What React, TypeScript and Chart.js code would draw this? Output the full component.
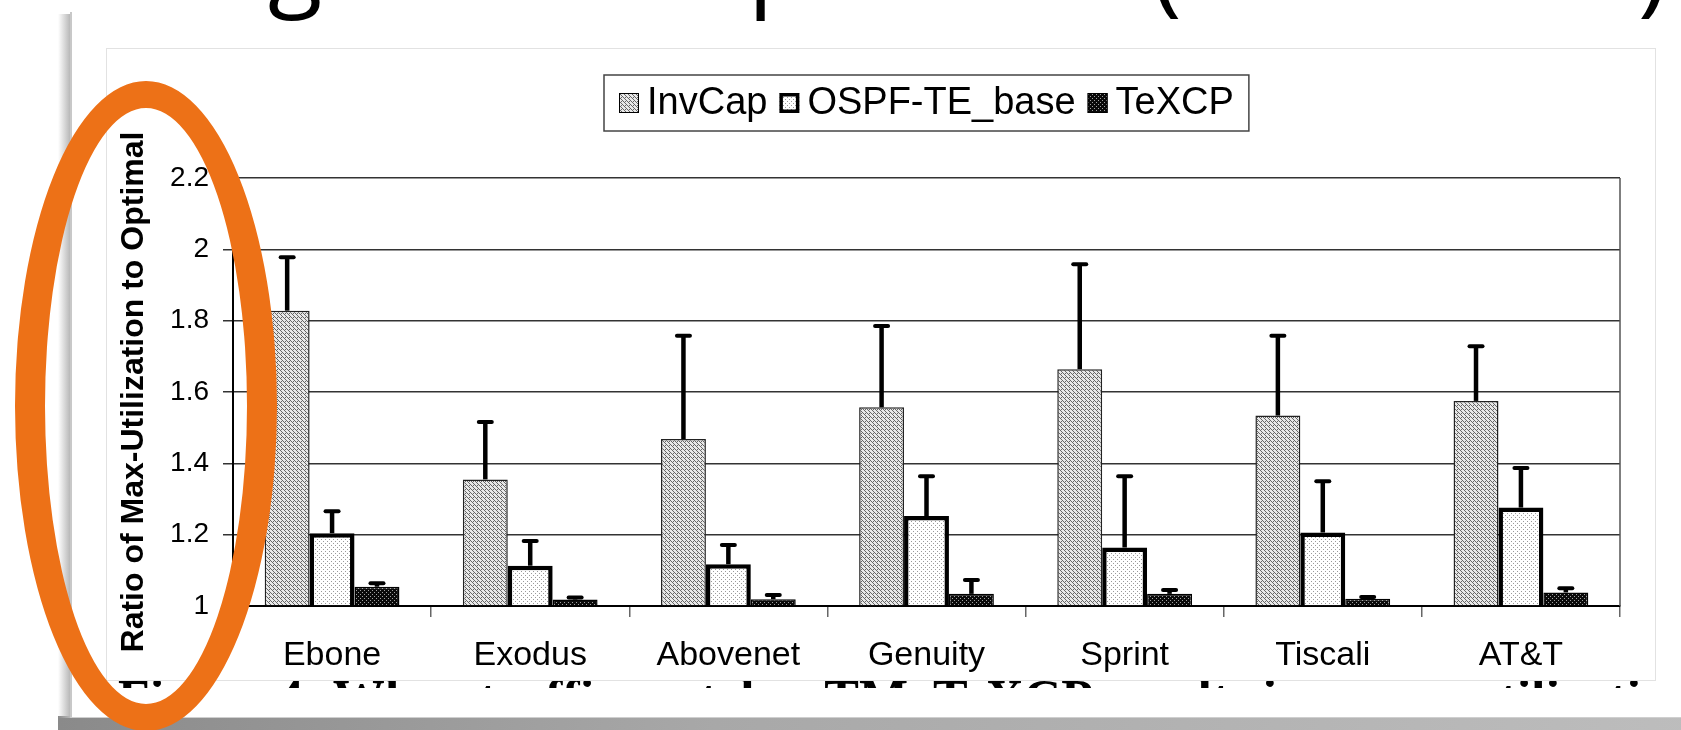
import React, { useEffect, useRef } from "react";
import { Chart, registerables } from "chart.js";

Chart.register(...registerables);

// ---------- data ----------
const categories = ["Ebone", "Exodus", "Abovenet", "Genuity", "Sprint", "Tiscali", "AT&T"];
const seriesNames = ["InvCap", "OSPF-TE_base", "TeXCP"];
const invCap = [1.828, 1.355, 1.468, 1.557, 1.664, 1.534, 1.575];
const invCapErr = [1.978, 1.516, 1.758, 1.785, 1.958, 1.758, 1.728];
const ospfTeBase = [1.204, 1.113, 1.117, 1.252, 1.164, 1.206, 1.276];
const ospfTeBaseErr = [1.266, 1.182, 1.171, 1.364, 1.364, 1.35, 1.387];
const texcp = [1.054, 1.018, 1.019, 1.034, 1.034, 1.02, 1.038];
const texcpErr = [1.064, 1.024, 1.031, 1.073, 1.045, 1.025, 1.05];
const yTickValues = [1, 1.2, 1.4, 1.6, 1.8, 2, 2.2];
const yTitle = "Ratio of Max-Utilization to Optimal";
const captionText =
  "Figure 4: When traffic matches TM, TeXCP results in a max-utilization within a few percent of the optimal";
// slide-title letters whose lower parts peek in at the top edge
const titleGlyphs = ["g", "p", "(", ")"];
const titleGlyphX = [268, 748, 1152, 1638];
const titleGlyphBaseline = [-3, -3, 3, 3];

const FONT = "'Liberation Sans', Arial, Helvetica, sans-serif";

function makePattern(size: number, bg: string, dots: Array<[number, number]>, dotColor: string) {
  const c = document.createElement("canvas");
  c.width = size;
  c.height = size;
  const g = c.getContext("2d")!;
  g.fillStyle = bg;
  g.fillRect(0, 0, size, size);
  g.fillStyle = dotColor;
  dots.forEach(([x, y]) => g.fillRect(x, y, 1, 1));
  return g.createPattern(c, "repeat")!;
}

export default function App() {
  const canvasRef = useRef<HTMLCanvasElement | null>(null);
  const titleRef = useRef<HTMLCanvasElement | null>(null);

  useEffect(() => {
    const tc = titleRef.current;
    if (!tc) return;
    const tctx = tc.getContext("2d")!;
    tctx.clearRect(0, 0, tc.width, tc.height);
    tctx.font = "100px 'Open Sans', sans-serif";
    tctx.fillStyle = "#000";
    tctx.textAlign = "left";
    tctx.textBaseline = "alphabetic";
    titleGlyphs.forEach((ch, i) => {
      tctx.fillText(ch, titleGlyphX[i], titleGlyphBaseline[i]);
    });
  }, []);

  useEffect(() => {
    const canvas = canvasRef.current;
    if (!canvas) return;

    const patInv = makePattern(4, "#e8e8e8", [[0, 0], [1, 1], [2, 2], [3, 3], [2, 0]], "#666");
    const patOspf = makePattern(4, "#ffffff", [[0, 0], [2, 2]], "#9a9a9a");
    const patTex = makePattern(4, "#0a0a0a", [[1, 1], [3, 3]], "#a0a0a0");
    const patterns = [patInv, patOspf, patTex];
    const errSeries = [invCapErr, ospfTeBaseErr, texcpErr];

    const errorBars = {
      id: "errorBars",
      afterDatasetsDraw(chart: any) {
        const ctx = chart.ctx;
        const ys = chart.scales.y;
        errSeries.forEach((errs, di) => {
          const meta = chart.getDatasetMeta(di);
          meta.data.forEach((bar: any, i: number) => {
            const top = ys.getPixelForValue(errs[i]);
            ctx.save();
            ctx.strokeStyle = "#000";
            ctx.lineWidth = 4.5;
            ctx.lineCap = "butt";
            ctx.beginPath();
            ctx.moveTo(bar.x, bar.y);
            ctx.lineTo(bar.x, top);
            ctx.stroke();
            ctx.lineWidth = 4;
            ctx.lineCap = "round";
            ctx.beginPath();
            ctx.moveTo(bar.x - 6.5, top);
            ctx.lineTo(bar.x + 6.5, top);
            ctx.stroke();
            ctx.restore();
          });
        });
      },
    };

    const frame = {
      id: "frame",
      afterDraw(chart: any) {
        const { ctx, chartArea } = chart;
        ctx.save();
        ctx.strokeStyle = "#555";
        ctx.lineWidth = 1.5;
        ctx.beginPath();
        ctx.moveTo(chartArea.right, chartArea.top);
        ctx.lineTo(chartArea.right, chartArea.bottom);
        ctx.stroke();
        ctx.restore();
      },
    };

    const boxLegend = {
      id: "boxLegend",
      afterDraw(chart: any) {
        const { ctx, chartArea } = chart;
        ctx.save();
        ctx.font = `38px ${FONT}`;
        const sw = 20;
        const gapSw = 8;
        const gapItems = 12;
        const padX = 15;
        const widths = seriesNames.map((n) => ctx.measureText(n).width);
        const content =
          widths.reduce((a, b) => a + b, 0) +
          seriesNames.length * (sw + gapSw) +
          (seriesNames.length - 1) * gapItems;
        const boxW = content + 2 * padX;
        const boxH = 56;
        const cx = (chartArea.left + chartArea.right) / 2;
        const bx = Math.round(cx - boxW / 2);
        const by = chartArea.top - 103;
        ctx.fillStyle = "#fff";
        ctx.fillRect(bx, by, boxW, boxH);
        ctx.strokeStyle = "#444";
        ctx.lineWidth = 1.5;
        ctx.strokeRect(bx, by, boxW, boxH);
        let x = bx + padX;
        const midY = by + boxH / 2;
        seriesNames.forEach((n, i) => {
          ctx.fillStyle = patterns[i];
          ctx.fillRect(x, midY - sw / 2, sw, sw);
          ctx.strokeStyle = "#000";
          ctx.lineWidth = i === 1 ? 3.5 : 1;
          const inset = i === 1 ? 1.75 : 0.5;
          ctx.strokeRect(x + inset, midY - sw / 2 + inset, sw - 2 * inset, sw - 2 * inset);
          x += sw + gapSw;
          ctx.fillStyle = "#000";
          ctx.textBaseline = "middle";
          ctx.textAlign = "left";
          ctx.fillText(n, x, midY + 1);
          x += widths[i] + gapItems;
        });
        ctx.restore();
      },
    };

    const chart = new Chart(canvas, {
      type: "bar",
      data: {
        labels: categories,
        datasets: [
          {
            label: seriesNames[0],
            data: invCap,
            base: 1,
            backgroundColor: patInv,
            borderColor: "#222",
            borderWidth: 1.5,
            borderSkipped: "start",
          },
          {
            label: seriesNames[1],
            data: ospfTeBase,
            base: 1,
            backgroundColor: patOspf,
            borderColor: "#000",
            borderWidth: 4.5,
            borderSkipped: "start",
          },
          {
            label: seriesNames[2],
            data: texcp,
            base: 1,
            backgroundColor: patTex,
            borderColor: "#000",
            borderWidth: 1.5,
            borderSkipped: "start",
          },
        ] as any,
      },
      options: {
        animation: false,
        responsive: false,
        maintainAspectRatio: false,
        devicePixelRatio: 1,
        layout: { padding: { left: 0, top: 129, right: 35, bottom: 0 } },
        datasets: { bar: { categoryPercentage: 0.68, barPercentage: 1 } } as any,
        plugins: {
          legend: { display: false },
          tooltip: { enabled: false },
          title: { display: false },
        },
        scales: {
          x: {
            type: "category",
            offset: true,
            grid: {
              display: true,
              offset: true,
              drawOnChartArea: false,
              drawTicks: true,
              tickLength: 11,
              color: "#666",
              lineWidth: 1.5,
            },
            border: { display: true, color: "#000", width: 2 },
            ticks: {
              color: "#000",
              font: { family: FONT, size: 34 },
              padding: 18,
              maxRotation: 0,
              autoSkip: false,
            },
            afterFit: (scale: any) => {
              scale.height = 74;
            },
          },
          y: {
            type: "linear",
            min: 1,
            max: 2.2,
            afterBuildTicks: (scale: any) => {
              scale.ticks = yTickValues.map((v) => ({ value: v }));
            },
            grid: {
              display: true,
              color: "#333",
              lineWidth: 1.5,
              drawTicks: true,
              tickLength: 10,
            },
            border: { display: true, color: "#000", width: 2 },
            ticks: {
              color: "#000",
              font: { family: FONT, size: 28 },
              padding: 14,
              callback: (v: any) => String(Math.round(Number(v) * 10) / 10),
            },
            title: {
              display: true,
              text: yTitle,
              color: "#000",
              font: { family: FONT, size: 32, weight: "bold" },
              padding: { top: 8, bottom: 0 },
            },
            afterFit: (scale: any) => {
              scale.width = 126;
            },
          },
        },
      } as any,
      plugins: [errorBars, frame, boxLegend],
    });

    return () => chart.destroy();
  }, []);

  return (
    <div
      style={{
        position: "fixed",
        left: 0,
        top: 0,
        width: 1681,
        height: 730,
        background: "#fff",
        overflow: "hidden",
      }}
    >
      {/* bottom shadow band */}
      <div
        style={{
          position: "absolute",
          left: 58,
          top: 716,
          width: 1640,
          height: 16,
          background: "linear-gradient(to right, #8a8a8a, #a8a8a8 40%, #bdbdbd)",
        }}
      />
      {/* left shadow */}
      <div
        style={{
          position: "absolute",
          left: 58,
          top: 14,
          width: 12,
          height: 704,
          background: "linear-gradient(to left, #b8b8b8, rgba(255,255,255,0))",
        }}
      />
      {/* slide panel */}
      <div
        style={{
          position: "absolute",
          left: 70,
          top: 12,
          width: 1640,
          height: 706,
          background: "#fff",
          borderLeft: "2px solid #c8c8c8",
          borderBottom: "1px solid #cfcfcf",
          boxSizing: "border-box",
        }}
      />
      {/* big slide title fragments */}
      <canvas
        ref={titleRef}
        width={1681}
        height={40}
        style={{ position: "absolute", left: 0, top: 0, width: 1681, height: 40 }}
      />
      {/* caption fragment (tops of letters only) */}
      <div
        style={{
          position: "absolute",
          left: 100,
          top: 681,
          width: 1555,
          height: 7,
          overflow: "hidden",
        }}
      >
        <div
          style={{
            position: "absolute",
            left: 18,
            top: -12,
            fontFamily: "'Liberation Serif', 'Times New Roman', serif",
            fontWeight: "bold",
            fontSize: 52,
            lineHeight: "59px",
            whiteSpace: "nowrap",
            color: "#000",
          }}
        >
          {captionText}
        </div>
      </div>
      {/* chart image box */}
      <div
        style={{
          position: "absolute",
          left: 106,
          top: 48,
          width: 1550,
          height: 633,
          background: "#fff",
          border: "1px solid #e2e2e2",
          boxSizing: "border-box",
        }}
      />
      <canvas
        ref={canvasRef}
        width={1548}
        height={631}
        style={{ position: "absolute", left: 107, top: 49, width: 1548, height: 631 }}
      />
      {/* orange highlight ellipse */}
      <div
        style={{
          position: "absolute",
          left: 15,
          top: 81,
          width: 262,
          height: 650,
          borderStyle: "solid",
          borderColor: "#ED7117",
          borderWidth: "27px 30px",
          borderRadius: "50%",
          boxSizing: "border-box",
        }}
      />
    </div>
  );
}
